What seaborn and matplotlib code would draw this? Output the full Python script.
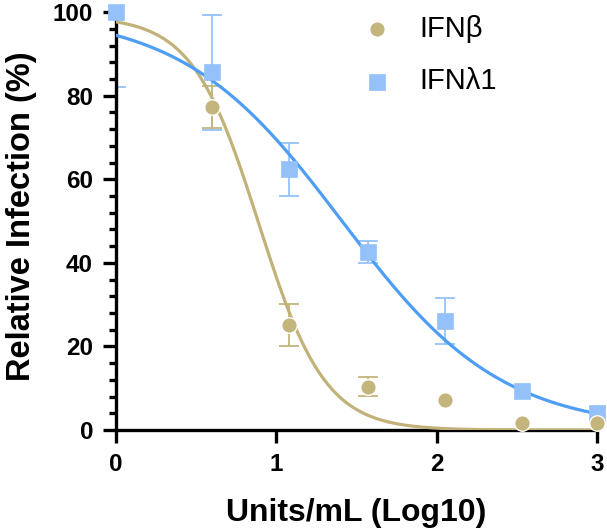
import numpy as np
import pandas as pd
import matplotlib
matplotlib.use("Agg")
import matplotlib.pyplot as plt
import seaborn as sns

# Dose (log10 Units/mL) and mean relative infection with SD
ifnb_x = [0.6, 1.08, 1.57, 2.05, 2.53, 3.0]
ifnb_y = [77.3, 25.1, 10.4, 7.2, 1.7, 1.7]
ifnb_err = [5.0, 5.0, 2.3, 0.0, 0.0, 0.0]

ifnl_x = [0.0, 0.6, 1.08, 1.57, 2.05, 2.53, 3.0]
ifnl_y = [100.0, 85.6, 62.4, 42.6, 26.1, 9.3, 4.1]
ifnl_err = [18.0, 13.7, 6.3, 2.7, 5.6, 0.0, 0.0]

# Four-parameter logistic fits: top, bottom, logIC50, Hill slope
ifnb_fit = dict(top=99.0, bottom=0.0, logic50=0.89, hill=2.1)
ifnl_fit = dict(top=100.0, bottom=0.0, logic50=1.41, hill=0.874)

x_ticks = [0, 1, 2, 3]
y_ticks = [0, 20, 40, 60, 80, 100]

tan_mark = "#c4b57c"
tan_line = "#c2b27a"
blue_mark = "#94c1fa"
blue_line = "#4f9ef5"


def logistic(x, top, bottom, logic50, hill):
    return bottom + (top - bottom) / (1.0 + 10.0 ** ((x - logic50) * hill))


def draw_errors(ax, x, y, err, color):
    # skip points whose SD is too small to show a bar
    keep = [i for i, e in enumerate(err) if e > 0]
    ax.errorbar([x[i] for i in keep], [y[i] for i in keep],
                yerr=[err[i] for i in keep], fmt="none", ecolor=color,
                elinewidth=1.3, capsize=7, capthick=1.3, zorder=2)


sns.set_style("ticks")
plt.rcParams["font.family"] = ["Liberation Sans", "DejaVu Sans"]
plt.rcParams.update({
    "text.color": "black", "axes.labelcolor": "black",
    "xtick.color": "black", "ytick.color": "black",
    "axes.edgecolor": "black",
})

fig = plt.figure(figsize=(6.07, 5.29), dpi=100)
ax = fig.add_axes([0.191, 0.187, 0.7925, 0.790])

xs = np.linspace(0, 3, 300)
curves = pd.DataFrame({
    "x": np.concatenate([xs, xs]),
    "y": np.concatenate([logistic(xs, **ifnb_fit), logistic(xs, **ifnl_fit)]),
    "series": ["IFNβ"] * len(xs) + ["IFNλ1"] * len(xs),
})
sns.lineplot(data=curves, x="x", y="y", hue="series",
             palette={"IFNβ": tan_line, "IFNλ1": blue_line},
             linewidth=2.3, legend=False, ax=ax, zorder=3)

draw_errors(ax, ifnl_x, ifnl_y, ifnl_err, blue_mark)
draw_errors(ax, ifnb_x, ifnb_y, ifnb_err, tan_mark)

pts_l = pd.DataFrame({"x": ifnl_x, "y": ifnl_y})
pts_b = pd.DataFrame({"x": ifnb_x, "y": ifnb_y})
sns.scatterplot(data=pts_l, x="x", y="y", marker="s", s=118, color=blue_mark,
                edgecolor=blue_mark, linewidth=0.5, ax=ax, zorder=4,
                clip_on=False, label="IFNλ1")
sns.scatterplot(data=pts_b, x="x", y="y", marker="o", s=125, color=tan_mark,
                edgecolor="white", linewidth=1.0, ax=ax, zorder=5,
                clip_on=False, label="IFNβ")

ax.set_xlim(0, 3)
ax.set_ylim(0, 100)
ax.set_xticks(x_ticks)
ax.set_yticks(y_ticks)
ax.set_yticks(np.arange(0, 101, 4), minor=True)
ax.tick_params(axis="both", which="major", length=9.5, width=2.4,
               labelsize=17.5, pad=7)
ax.tick_params(axis="y", which="minor", length=5, width=2.4)
for lab in ax.get_xticklabels() + ax.get_yticklabels():
    lab.set_fontweight("bold")
for side in ["left", "bottom"]:
    ax.spines[side].set_linewidth(2.4)
sns.despine(ax=ax)

ax.set_xlabel("Units/mL (Log10)", fontsize=23, fontweight="bold", labelpad=16)
ax.set_ylabel("Relative Infection (%)", fontsize=23.5, fontweight="bold")
ax.yaxis.set_label_coords(-0.165, 0.512)

handles, labels = ax.get_legend_handles_labels()
order = [labels.index("IFNβ"), labels.index("IFNλ1")]
ax.legend([handles[i] for i in order], [labels[i] for i in order],
          loc="upper left", bbox_to_anchor=(0.451, 1.057), frameon=False,
          fontsize=21, handlelength=1.2, handletextpad=0.85,
          labelspacing=0.85, markerscale=1.0)

fig.savefig("out.png", dpi=100)
